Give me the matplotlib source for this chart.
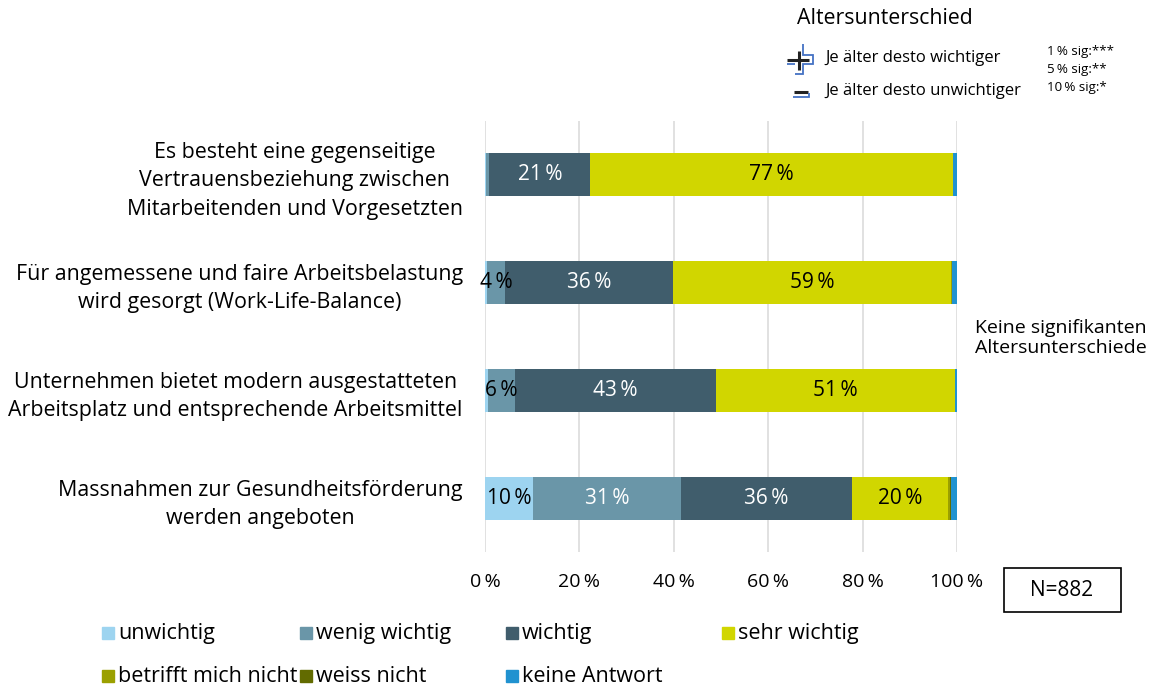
import matplotlib
matplotlib.use("Agg")
import matplotlib.pyplot as plt
import numpy as np
from matplotlib.lines import Line2D
from matplotlib.patches import Rectangle

plt.rcParams['font.family'] = ['Open Sans', 'DejaVu Sans']

# data
items = [
    "Es besteht eine gegenseitige\nVertrauensbeziehung zwischen\nMitarbeitenden und Vorgesetzten",
    "Für angemessene und faire Arbeitsbelastung\nwird gesorgt (Work-Life-Balance)",
    "Unternehmen bietet modern ausgestatteten\nArbeitsplatz und entsprechende Arbeitsmittel",
    "Massnahmen zur Gesundheitsförderung\nwerden angeboten",
]
answers = ["unwichtig", "wenig wichtig", "wichtig", "sehr wichtig",
           "betrifft mich nicht", "weiss nicht", "keine Antwort"]
colors = ["#9DD4F0", "#6A96A8", "#405D6C", "#D1D600", "#9BA000", "#626B00", "#2092D0"]
text_colors = ["black", "white", "white", "black", "black", "black", "black"]

unwichtig = [0.2, 0.4, 0.7, 10.2]
wenig_wichtig = [0.7, 3.8, 5.6, 31.3]
wichtig = [21.4, 35.6, 42.6, 36.2]
sehr_wichtig = [76.9, 58.9, 50.6, 20.4]
betrifft_nicht = [0.0, 0.3, 0.0, 0.5]
weiss_nicht = [0.0, 0.0, 0.0, 0.1]
keine_antwort = [0.8, 1.0, 0.5, 1.3]
series = [unwichtig, wenig_wichtig, wichtig, sehr_wichtig,
          betrifft_nicht, weiss_nicht, keine_antwort]

xticks = [0, 20, 40, 60, 80, 100]
n_total = 882

W, H = 1157, 691
fig = plt.figure(figsize=(W / 100, H / 100), dpi=100)
ax = fig.add_axes([485 / W, 1 - 552 / H, (957 - 485) / W, (552 - 121) / H])

y = np.arange(len(items))
left = np.zeros(len(items))
for vals, col, tcol in zip(series, colors, text_colors):
    vals = np.array(vals)
    ax.barh(y, vals, left=left, height=0.4, color=col, zorder=3)
    for yi, v, l in zip(y, vals, left):
        if v >= 3.5:
            c = tcol if v >= 8 else "black"
            ax.text(l + v / 2, yi, f"{v:.0f}\u2009%", ha="center", va="center",
                    fontsize=15, color=c, zorder=4)
    left += vals

ax.set_xlim(0, 100)
ax.set_ylim(3.5, -0.5)
ax.set_xticks(xticks)
ax.set_xticklabels([f"{t}\u2009%" for t in xticks], fontsize=14)
ax.set_yticks(y)
ax.set_yticklabels(items, fontsize=15.4, multialignment="center", linespacing=1.45)
ax.tick_params(length=0)
ax.tick_params(axis="x", pad=15)
ax.tick_params(axis="y", pad=16)
ax.xaxis.grid(True, color="#DCDCDC", lw=1.2, zorder=0)
for s in ax.spines.values():
    s.set_visible(False)


def fx(px):
    return px / W


def fy(py):
    return 1 - py / H


# bottom legend
leg_pos = [(102, 633), (300, 633), (506, 633), (722, 633),
           (102, 676), (300, 676), (506, 676)]
for (px, py), lab, col in zip(leg_pos, answers, colors):
    fig.add_artist(Rectangle((fx(px), fy(py + 6)), 12 / W, 12 / H,
                             transform=fig.transFigure, color=col))
    fig.text(fx(px + 16), fy(py), lab, fontsize=15.5, va="center", ha="left")

# N box
fig.add_artist(Rectangle((fx(1004), fy(612)), 117 / W, 44 / H,
                         transform=fig.transFigure, fill=False, ec="black", lw=1.2))
fig.text(fx(1062), fy(590), f"N={n_total}", fontsize=15, ha="center", va="center")

fig.text(fx(975), fy(338), "Keine signifikanten\nAltersunterschiede", fontsize=14,
         ha="left", va="center", linespacing=1.15)

# top-right legend
fig.text(fx(797), fy(19), "Altersunterschied", fontsize=15.3, ha="left", va="center")
fig.text(fx(825), fy(58), "Je älter desto wichtiger", fontsize=12, ha="left", va="center")
fig.text(fx(825), fy(91), "Je älter desto unwichtiger", fontsize=12, ha="left", va="center")
fig.text(fx(1047), fy(51), "1\u2009% sig:***", fontsize=9.6, ha="left", va="center")
fig.text(fx(1047), fy(70), "5\u2009% sig:**", fontsize=9.6, ha="left", va="center")
fig.text(fx(1047), fy(87), "10\u2009% sig:*", fontsize=9.6, ha="left", va="center")


def line(xs, ys, col, lw):
    fig.add_artist(Line2D([fx(v) for v in xs], [fy(v) for v in ys],
                          transform=fig.transFigure, color=col, lw=lw,
                          solid_capstyle="butt", solid_joinstyle="miter"))


blue = "#4472C4"
line([803, 803, 813, 813, 803, 803, 795], [44, 55, 55, 64, 64, 74, 74], blue, 1.3)
line([787, 795], [64, 64], blue, 1.3)
line([787, 809], [60, 60], "#222222", 2.2)
line([799, 799], [51, 70], "#222222", 2.2)
line([794, 808], [92, 92], "#222222", 2.2)
line([793, 809, 809], [97, 97, 93], blue, 1.3)

fig.savefig("out.png", dpi=100)
